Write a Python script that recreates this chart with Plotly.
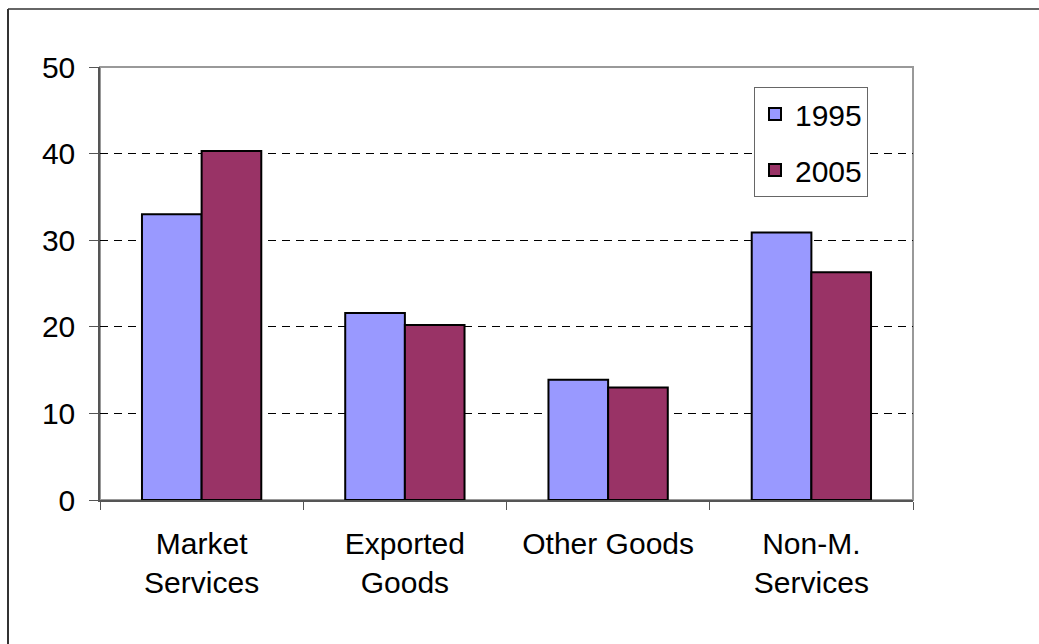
import plotly.graph_objects as go

categories = ["Market<br>Services", "Exported<br>Goods", "Other Goods", "Non-M.<br>Services"]
values_1995 = [33.0, 21.6, 13.9, 30.9]
values_2005 = [40.3, 20.2, 13.0, 26.3]
series_names = ["1995", "2005"]
y_ticks = [0, 10, 20, 30, 40, 50]

FONT = "Liberation Sans, Arial, sans-serif"
W, H = 1039, 644
ML, MR, MT, MB = 100, 126, 67, 144
pw, ph = W - ML - MR, H - MT - MB

fig = go.Figure()
fig.add_trace(go.Bar(x=categories, y=values_1995, name=series_names[0],
                     marker=dict(color="#9999FF", line=dict(color="black", width=2)),
                     legendgroup="a"))
fig.add_trace(go.Bar(x=categories, y=values_2005, name=series_names[1],
                     marker=dict(color="#993366", line=dict(color="black", width=2)),
                     legendgroup="b"))

# outer chart border (only top & left visible)
bx = (8 - ML) / pw
by = (H - MB - 9) / ph
fig.add_shape(type="line", xref="paper", yref="paper", x0=bx, x1=bx, y0=by, y1=-0.5,
              line=dict(color="#333333", width=2))
fig.add_shape(type="line", xref="paper", yref="paper", x0=bx, x1=1.3, y0=by, y1=by,
              line=dict(color="#333333", width=1.5))
# plot area border top/right
fig.add_shape(type="rect", xref="paper", yref="paper", x0=0, x1=1, y0=0, y1=1,
              line=dict(color="#999999", width=2), layer="below")

fig.update_layout(
    width=W, height=H,
    margin=dict(l=ML, r=MR, t=MT, b=MB),
    paper_bgcolor="white", plot_bgcolor="white",
    barmode="group", bargap=0.413, bargroupgap=0,
    font=dict(family=FONT, size=30, color="black"),
    showlegend=True,
    legend=dict(x=(754 - ML) / pw, y=(H - MB - 87) / ph, xanchor="left", yanchor="top",
                bordercolor="#666666", borderwidth=1, bgcolor="white",
                font=dict(family=FONT, size=30), tracegroupgap=14,
                traceorder="grouped", itemwidth=30),
    xaxis=dict(showline=True, linecolor="#555555", linewidth=1.5,
               ticks="outside", tickson="boundaries", ticklen=8, tickcolor="#555555",
               showgrid=False, ticklabelstandoff=16),
    yaxis=dict(range=[0, 50], tickvals=y_ticks, showline=True, linecolor="#555555", linewidth=1.5,
               ticks="outside", ticklen=9, tickcolor="#555555",
               showgrid=True, gridcolor="black", gridwidth=1, griddash="8px,6px",
               zeroline=False, ticklabelstandoff=8),
)

fig.write_html("out.html")
